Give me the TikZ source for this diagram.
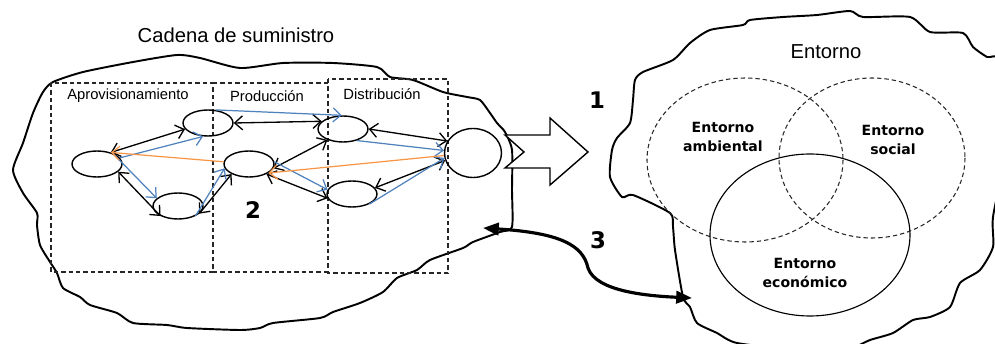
\documentclass[tikz,border=0pt]{standalone}
\usepackage{fontspec}
\setmainfont{Liberation Sans}
\newfontfamily\boldfont{DejaVu Sans}
\usetikzlibrary{shapes.geometric,arrows.meta}

\definecolor{flowblue}{RGB}{79,129,189}
\definecolor{floworange}{RGB}{247,150,70}

\begin{document}
\begin{tikzpicture}[x=0.02cm,y=-0.02cm,
    actor/.style={draw,ellipse,line width=0.8pt,minimum width=1cm,minimum height=0.52cm,inner sep=0pt},
    both/.style={line width=0.75pt,{Straight Barb[length=4.5pt,width=8pt]}-{Straight Barb[length=4.5pt,width=8pt]}},
    goods/.style={flowblue,line width=0.7pt,-{Straight Barb[length=4.5pt,width=8pt]}},
    back/.style={floworange,line width=0.7pt,-{Straight Barb[length=4.5pt,width=8pt]}},
    stage/.style={dash pattern=on 2.5pt off 1.7pt,line width=0.65pt,gray!30!black},
    outline/.style={line width=1.1pt,line join=round},
    title/.style={font=\fontsize{11.5}{13}\selectfont},
    stagelbl/.style={font=\fontsize{8.4}{10}\selectfont},
    pillar/.style={font=\boldfont\bfseries\fontsize{8}{11.3}\selectfont,align=center},
    num/.style={font=\boldfont\bfseries\fontsize{13}{15}\selectfont}]
    \clip (0,0) rectangle (995,344);

    % Supply chain cloud
    \draw[outline] plot[smooth cycle,tension=0.4] coordinates {
        (43,92) (53,82) (83,72) (133,62) (177,55) (200,58) (240,68) (283,63)
        (333,63) (377,67) (390,77) (413,80) (443,92) (467,97) (480,100) (490,113)
        (497,123) (505,132) (512,150) (512,190) (512,227) (500,232) (473,242)
        (463,248) (430,260) (417,270) (397,278) (383,292) (360,303) (333,312)
        (320,318) (273,323) (260,328) (240,330) (187,328) (167,325) (133,323)
        (117,313) (90,305) (80,297) (63,288) (57,273) (50,262) (40,245) (37,225)
        (37,213) (23,193) (13,170) (23,143) (33,113)};
    \node[title] (chain) at (236,35) {Cadena de suministro};

    % Stages
    \draw[stage] (51,83) rectangle (213,272);
    \draw[stage] (213,83) -- (328,83) (213,272) -- (328,272);
    \draw[stage] (328,79) rectangle (448,273);
    \node[stagelbl] (apro) at (128,96) {Aprovisionamiento};
    \node[stagelbl] (prod) at (267,96) {Producción};
    \node[stagelbl] (dist) at (382,94) {Distribución};

    % Actors
    \node[actor] (sup1) at (97,164) {};
    \node[actor] (sup2) at (208,123) {};
    \node[actor] (sup3) at (178,206) {};
    \node[actor] (plant) at (249,164) {};
    \node[actor] (dist1) at (343,129) {};
    \node[actor] (dist2) at (352,194) {};
    \node[actor,minimum width=1.14cm,minimum height=0.98cm] (client) at (473,153) {};

    % Information flows
    \draw[both] (sup1.40) -- (sup2.195);
    \draw[both] (sup1.-20) -- (sup3.210);
    \draw[both] (sup3.-20) -- (plant.210);
    \draw[both] (sup2.0) -- (dist1.160);
    \draw[both] (plant.-10) -- (dist1.215);
    \draw[both] (plant.-30) -- (dist2.190);
    \draw[both] (dist1.0) -- (client.155);
    \draw[both] (dist2.15) -- (client.195);

    % Material flows
    \draw[goods] (sup1.15) -- (sup2.250);
    \draw[goods] (sup1.35) -- (sup3.160);
    \draw[goods] (sup3.-30) -- (plant.190);
    \draw[goods] (sup2.60) -- (dist1.95);
    \draw[goods] (plant.5) -- (dist2.170);
    \draw[goods] (dist1.-40) -- (client.175);
    \draw[goods] (dist2.-30) -- (client.190);

    % Return flows
    \draw[back] (plant.175) -- (sup1.40);
    \draw[back] (client.185) -- (plant.-25);

    \node[num] (n2) at (253,210) {2};

    % Environment cloud
    \draw[outline] plot[smooth cycle,tension=0.4] coordinates {
        (635,80) (643,72) (673,60) (690,43) (710,30) (743,25) (750,20) (783,17)
        (817,15) (850,11) (863,17) (910,17) (930,32) (963,33) (973,47) (987,57)
        (1000,62) (1005,150) (993,217) (993,247) (980,270) (960,283) (950,307)
        (930,317) (913,320) (893,333) (870,340) (850,348) (800,350) (737,343)
        (717,333) (697,323) (690,307) (683,297) (675,250) (673,227) (670,213)
        (633,195) (622,197) (610,177) (612,150) (617,138) (630,123) (633,100)};
    \node[title] (env) at (826,52) {Entorno};

    % Venn
    \draw[stage,line width=0.6pt] (745,160) ellipse [x radius=98,y radius=82];
    \draw[stage,line width=0.6pt] (872,158) ellipse [x radius=93,y radius=80];
    \draw[line width=0.65pt] (810,235) ellipse [x radius=100,y radius=81];
    \node[pillar] (amb) at (723,137) {Entorno\\ambiental};
    \node[pillar] (soc) at (893,140) {Entorno\\social};
    \node[pillar] (eco) at (805,273) {Entorno\\económico};

    % Impact arrow
    \draw[line width=0.8pt,fill=white] (505,135) -- (550,135) -- (550,118) -- (588,152)
        -- (550,185) -- (550,168) -- (505,168) -- (524,152) -- cycle;
    \node[num] (n1) at (597,100) {1};

    % Interaction
    \coordinate (from3) at (483,228);
    \coordinate (mid3) at (588,268);
    \coordinate (to3) at (692,298);
    \draw[line width=1.8pt,{Triangle[length=9pt,width=7pt]}-{Triangle[length=9pt,width=7pt]}]
        (from3) .. controls (560,233) and (583,245) .. (mid3)
        .. controls (596,292) and (650,296) .. (to3);
    \node[num] (n3) at (598,240) {3};
\end{tikzpicture}
\end{document}
